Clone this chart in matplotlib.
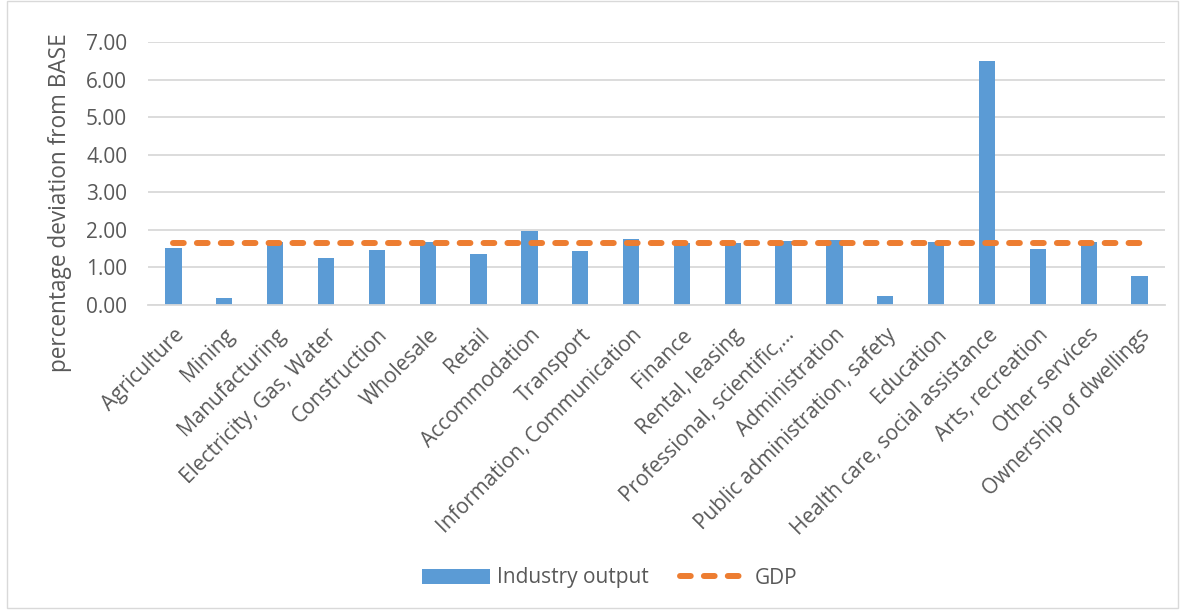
import matplotlib.pyplot as plt
from matplotlib.patches import Rectangle
import numpy as np

# Branchen und prozentuale Abweichung vom BASE-Szenario
branchen = ['Agriculture', 'Mining', 'Manufacturing', 'Electricity, Gas, Water',
            'Construction', 'Wholesale', 'Retail', 'Accommodation', 'Transport',
            'Information, Communication', 'Finance', 'Rental, leasing',
            'Professional, scientific,…', 'Administration',
            'Public administration, safety', 'Education',
            'Health care, social assistance', 'Arts, recreation',
            'Other services', 'Ownership of dwellings']
industry_output = [1.52, 0.19, 1.68, 1.26, 1.46, 1.68, 1.37, 1.98, 1.44, 1.76,
                   1.66, 1.66, 1.71, 1.73, 0.24, 1.68, 6.50, 1.49, 1.67, 0.76]
gdp = [1.64] * len(branchen)
y_ticks = [0, 1, 2, 3, 4, 5, 6, 7]

plt.rcParams['font.family'] = ['Open Sans', 'DejaVu Sans']
text_farbe = '#595959'

fig = plt.figure(figsize=(11.82, 6.12), dpi=100)
ax = fig.add_axes([148 / 1182, 1 - 305 / 612, (1165 - 148) / 1182, (305 - 42) / 612])

x = np.arange(len(branchen))
balken = ax.bar(x, industry_output, width=0.32, color='#5B9BD5', label='Industry output', zorder=2)
linie, = ax.plot(x, gdp, color='#ED7D31', lw=4.3, linestyle=(0, (1.8, 2.2)),
                 dash_capstyle='round', label='GDP', zorder=3)

ax.set_xlim(-0.5, len(branchen) - 0.5)
ax.set_ylim(0, 7)
ax.set_yticks(y_ticks)
ax.set_yticklabels([f'{v:.2f}' for v in y_ticks])
ax.set_xticks(x)
ax.set_xticklabels(branchen, rotation=45, ha='right', rotation_mode='anchor')
ax.grid(axis='y', color='#d9d9d9', lw=1.3, zorder=0)
ax.set_axisbelow(True)
for s in ['top', 'right', 'left']:
    ax.spines[s].set_visible(False)
ax.spines['bottom'].set_color('#d9d9d9')
ax.spines['bottom'].set_linewidth(1.3)
ax.tick_params(length=0, colors=text_farbe)
ax.tick_params(axis='y', labelsize=15, pad=15)
ax.tick_params(axis='x', labelsize=15, pad=14)
ax.set_ylabel('percentage deviation from BASE', fontsize=16.3, color=text_farbe)
ax.yaxis.set_label_coords(-0.075, 0.39)

fig.legend(handles=[balken, linie], loc='center', bbox_to_anchor=(0.516, 1 - 578 / 612),
           ncol=2, frameon=False, fontsize=15, labelcolor=text_farbe,
           handlelength=3.25, handletextpad=0.35, columnspacing=1.5)

# Rahmen um das Diagramm
fig.patches.append(Rectangle((7 / 1182, 4 / 612), 1171 / 1182, 607 / 612, transform=fig.transFigure,
                             fill=False, edgecolor='#d9d9d9', lw=1))

fig.savefig('out.png', dpi=100)
